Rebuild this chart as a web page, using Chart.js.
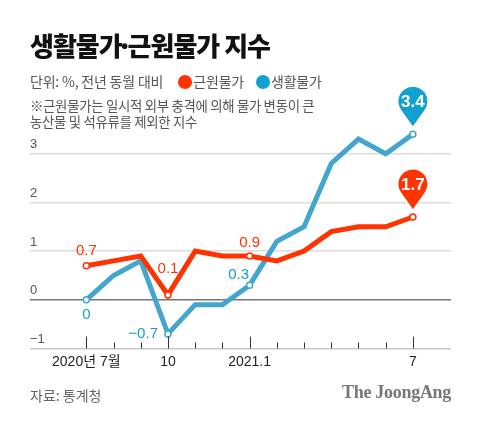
<!DOCTYPE html>
<html>
<head>
<meta charset="utf-8">
<script src="https://cdn.jsdelivr.net/npm/chart.js@4"></script>
<style>
  body { margin: 0; background: #fff; }
  #wrap { position: relative; width: 480px; height: 423px; overflow: hidden; font-family: 'Noto Sans CJK KR', sans-serif; }
  #chart { position: absolute; left: 0; top: 0; }
  .txt { position: absolute; white-space: nowrap; }
  #title { left: 30px; top: 26px; font-size: 26px; font-weight: 900; color: #111; letter-spacing: -1px; }
  #title .mid { display: inline-block; margin: 0 -4px 0 -5px; }
  #unit { left: 30px; top: 71px; font-size: 14px; color: #555; letter-spacing: -0.2px; }
  .dot { display: inline-block; width: 14px; height: 14px; border-radius: 50%; vertical-align: -2px; margin-right: 1px; }
  #dot1 { margin-left: 15px; }
  #dot2 { margin-left: 12px; }
  #note { left: 30px; top: 97px; font-size: 13.4px; line-height: 16px; color: #555; letter-spacing: -0.3px; }
  #src { left: 30px; top: 385px; font-size: 14px; color: #666; }
  #logo { right: 29px; top: 382px; font-family: 'Liberation Serif', serif; font-weight: bold; font-size: 18px; color: #777; letter-spacing: -0.3px; }
</style>
</head>
<body>
<div id="wrap">
  <canvas id="chart" width="480" height="423"></canvas>
  <div class="txt" id="title">생활물가<span class="mid">·</span>근원물가 지수</div>
  <div class="txt" id="unit">단위: %, 전년 동월 대비<span class="dot" id="dot1" style="background:#ff3300"></span>근원물가<span class="dot" id="dot2" style="background:#12a0d0"></span>생활물가</div>
  <div class="txt" id="note">※근원물가는 일시적 외부 충격에 의해 물가 변동이 큰<br>농산물 및 석유류를 제외한 지수</div>
  <div class="txt" id="src">자료: 통계청</div>
  <div class="txt" id="logo">The JoongAng</div>
</div>
<script>
// Months: 2020.7 ~ 2021.7
const monthLabels = ['2020년 7월', '', '', '10', '', '', '2021.1', '', '', '', '', '', '7'];
const majorMonths = [0, 3, 6, 12];
// 근원물가 (core), 생활물가 (living)
const coreValues   = [0.7, 0.8, 0.9, 0.1, 1.0, 0.9, 0.9, 0.8, 1.0, 1.4, 1.5, 1.5, 1.7];
const livingValues = [0, 0.5, 0.8, -0.7, -0.1, -0.1, 0.3, 1.2, 1.5, 2.8, 3.3, 3.0, 3.4];
const yTicks = [-1, 0, 1, 2, 3];
const labelledMonths = [0, 3, 6, 12];

const RED = '#ff3300';
const BLUE_LINE = '#44a5cf';
const BLUE_TEXT = '#18a0d2';
const BLUE_PIN = '#12a0d0';

const fmt = v => String(v).replace('-', '−');

function pointsOf(values) {
    return values.map((v, i) => ({ x: i, y: v }));
}

// label offsets per point (dx, dy, align)
const labelPlacement = {
    0: { 0: [0, -15, 'center'], 3: [0, -26, 'center'], 6: [0, -13, 'center'] },
    1: { 0: [0, 15, 'center'], 3: [-10, 0, 'right'], 6: [-11, -10, 'center'] }
};

const decorPlugin = {
    id: 'decor',
    afterDraw(chart) {
        const ctx = chart.ctx;
        const x = chart.scales.x;
        const area = chart.chartArea;
        // month tick marks rising from the bottom line
        ctx.save();
        ctx.strokeStyle = '#333';
        ctx.lineWidth = 1;
        monthLabels.forEach((_, i) => {
            const px = Math.round(x.getPixelForValue(i)) + 0.5;
            const len = majorMonths.includes(i) ? 12 : 6;
            ctx.beginPath();
            ctx.moveTo(px, area.bottom);
            ctx.lineTo(px, area.bottom - len);
            ctx.stroke();
        });
        ctx.restore();
    },
    afterDatasetsDraw(chart) {
        const ctx = chart.ctx;
        ctx.save();
        ctx.font = '15px "Liberation Sans", Arial, sans-serif';
        ctx.textBaseline = 'middle';
        chart.data.datasets.forEach((ds, di) => {
            const meta = chart.getDatasetMeta(di);
            const color = di === 0 ? RED : BLUE_TEXT;
            Object.keys(labelPlacement[di]).forEach(k => {
                const i = +k;
                const [dx, dy, align] = labelPlacement[di][i];
                const el = meta.data[i];
                ctx.fillStyle = color;
                ctx.textAlign = align;
                ctx.fillText(fmt(ds.data[i].y), el.x + dx, el.y + dy);
            });
            // pin on the latest value
            const last = ds.data.length - 1;
            const el = meta.data[last];
            const r = 14.5, d = 25;
            const cx = el.x, cy = el.y - 8 - d;
            const a = Math.acos(r / d);
            ctx.fillStyle = di === 0 ? RED : BLUE_PIN;
            ctx.beginPath();
            ctx.moveTo(cx, el.y - 8);
            ctx.arc(cx, cy, r, Math.PI / 2 + a, Math.PI / 2 - a + Math.PI * 2);
            ctx.closePath();
            ctx.fill();
            ctx.fillStyle = '#fff';
            ctx.textAlign = 'center';
            ctx.font = 'bold 17px "Liberation Sans", Arial, sans-serif';
            ctx.fillText(fmt(ds.data[last].y), cx, cy + 1);
            ctx.font = '15px "Liberation Sans", Arial, sans-serif';
        });
        ctx.restore();
    }
};

const pointRadius = ctx => labelledMonths.includes(ctx.dataIndex) ? 3 : 0;

new Chart(document.getElementById('chart').getContext('2d'), {
    type: 'line',
    data: {
        datasets: [
            {
                label: '근원물가',
                data: pointsOf(coreValues),
                borderColor: RED,
                borderWidth: 5,
                borderJoinStyle: 'miter',
                pointRadius: pointRadius,
                pointBackgroundColor: '#fff',
                pointBorderColor: RED,
                pointBorderWidth: 1.5,
                tension: 0,
            },
            {
                label: '생활물가',
                data: pointsOf(livingValues),
                borderColor: BLUE_LINE,
                borderWidth: 5,
                borderJoinStyle: 'miter',
                pointRadius: pointRadius,
                pointBackgroundColor: '#fff',
                pointBorderColor: BLUE_LINE,
                pointBorderWidth: 1.5,
                tension: 0,
            },
        ]
    },
    options: {
        responsive: false,
        animation: false,
        events: [],
        layout: { padding: { left: 30, right: 29, top: 105, bottom: 0 } },
        plugins: { legend: { display: false }, tooltip: { enabled: false } },
        scales: {
            x: {
                type: 'linear',
                min: -2.07,
                max: 13.4,
                afterBuildTicks: s => { s.ticks = monthLabels.map((_, i) => ({ value: i })); },
                afterFit: s => { s.height = 423 - 348.5; },
                grid: { display: false, drawTicks: false },
                border: { display: false },
                ticks: {
                    autoSkip: false,
                    maxRotation: 0,
                    padding: 5,
                    color: '#222',
                    font: { size: 14, family: '"Liberation Sans", "Noto Sans CJK KR", sans-serif' },
                    callback: v => monthLabels[v] || '',
                },
            },
            y: {
                min: -1,
                max: 4,
                afterBuildTicks: s => { s.ticks = yTicks.map(v => ({ value: v })); },
                afterFit: s => { s.width = 0; },
                border: { display: false },
                grid: {
                    drawTicks: false,
                    color: c => c.tick && c.tick.value === 0 ? '#777' : (c.tick && c.tick.value === -1 ? '#c8c8c8' : '#dcdcdc'),
                    lineWidth: c => c.tick && c.tick.value === 0 ? 1.6 : 1.4,
                },
                ticks: {
                    mirror: true,
                    padding: 0,
                    labelOffset: -9,
                    color: '#555',
                    font: { size: 13, family: '"Liberation Sans", Arial, sans-serif' },
                    callback: v => fmt(v),
                },
            },
        },
    },
    plugins: [decorPlugin],
});
</script>
</body>
</html>
